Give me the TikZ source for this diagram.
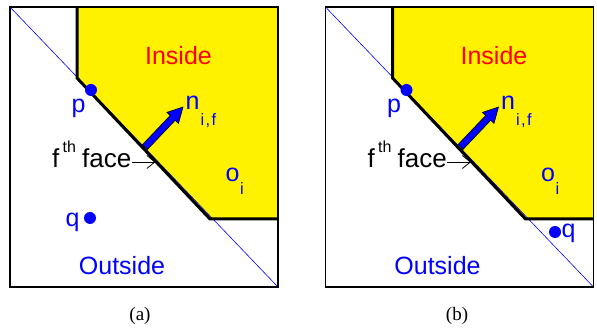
\documentclass[tikz,border=0pt]{standalone}
\usepackage{fontspec}
\setmainfont{Liberation Sans}
\newfontfamily\capfont{Liberation Serif}
\usetikzlibrary{arrows.meta}
\tikzset{
  lbl/.style={inner sep=0pt, anchor=base, font=\fontsize{25}{30}\selectfont},
  sub/.style={inner sep=0pt, anchor=base west, font=\fontsize{16.5}{19}\selectfont},
  captext/.style={inner sep=0pt, anchor=base, font=\capfont\fontsize{19}{23}\selectfont},
  border/.style={draw=black, line width=1.6pt},
  bound/.style={draw=black, line width=3pt, line join=miter},
  diag/.style={draw=blue, line width=0.6pt},
  bluedot/.style={fill=blue, draw=none}
}
\newcommand\panelfig[2]{%
\begin{scope}[xshift=#2pt]
  \fill[yellow] (77,7) -- (278,7) -- (278,219) -- (210,219) -- (77,78) -- cycle;
  \coordinate (tl#1) at (10,7);
  \coordinate (br#1) at (278,287);
  \draw[diag] (tl#1) -- (br#1);
  \filldraw[fill=blue, draw=black, line width=0.6pt, line join=miter]
    (147.5,149.4) -- (175.2,120.3) -- (178.5,123.4) -- (183,107) -- (166.9,112.4) -- (170.2,115.5) -- (142.5,144.6) -- cycle;
  \draw[bound] (77,7) -- (77,78) -- (210,219) -- (278,219);
  \draw[border] (tl#1) rectangle (br#1);
  \fill[bluedot] (91,90) circle (6);
  \node[lbl, text=red] (inside#1) at (178.5,65) {Inside};
  \node[lbl, text=blue] (p#1) at (78.5,113) {p};
  \node[lbl, text=blue, anchor=base west] (n#1) at (185.5,110) {n};
  \node[sub, text=blue, font=\fontsize{16.5}{19}\selectfont\addfontfeature{LetterSpace=8}] (nsub#1) at (200.5,126) {i,f};
  \node[lbl, anchor=base west, font=\fontsize{26}{30}\selectfont] (f#1) at (52,168) {f};
  \node[sub, font=\fontsize{16}{18}\selectfont] (th#1) at (62.5,153) {th};
  \node[lbl, anchor=base west, font=\fontsize{26}{30}\selectfont] (face#1) at (82,168) {face};
  \coordinate (fend#1) at (155.5,162);
  \draw[-{Straight Barb[length=8pt,width=13pt]}, line width=0.8pt] (face#1.east |- fend#1) -- (fend#1);
  \node[lbl, text=blue, anchor=base west] (o#1) at (225.5,182) {o};
  \node[sub, text=blue] (osub#1) at (240,194.5) {i};
  \node[lbl, text=blue] (out#1) at (122,275) {Outside};
\end{scope}}
\begin{document}
\begin{tikzpicture}[x=1pt, y=-1pt]
\useasboundingbox (0,0) rectangle (597,328);
\panelfig{a}{0}
\panelfig{b}{315.5}
\fill[bluedot] (90,218) circle (6);
\node[lbl, text=blue] (qa) at (72.5,227) {q};
\fill[bluedot] (555,232) circle (6);
\node[lbl, text=blue, anchor=base west] (qb) at (561.5,238) {q};
\node[captext] (capa) at (140,321) {(a)};
\node[captext] (capb) at (457,321) {(b)};
\end{tikzpicture}
\end{document}
